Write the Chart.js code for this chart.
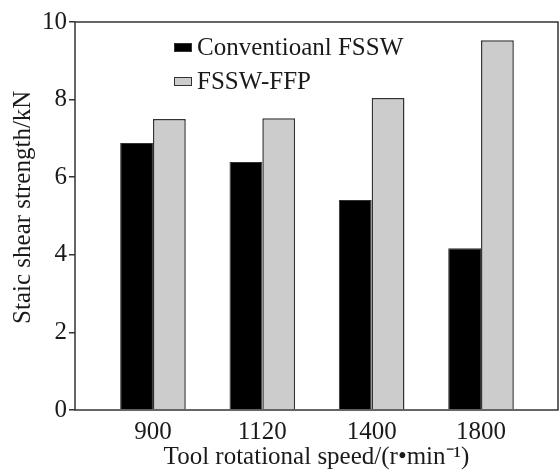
<!DOCTYPE html>
<html><head><meta charset="utf-8">
<script src="https://cdn.jsdelivr.net/npm/chart.js@4/dist/chart.umd.min.js"></script>
<style>html,body{margin:0;padding:0;background:#fff}#wrap{width:559px;height:472px}</style>
</head><body><div id="wrap"><canvas id="c" width="559" height="472"></canvas></div>
<script>
const categories = ['900', '1120', '1400', '1800'];
const conventional = [6.88, 6.39, 5.41, 4.17];
const ffp = [7.50, 7.52, 8.04, 9.53];
const seriesNames = ['Conventioanl FSSW', 'FSSW-FFP'];
const yTicks = [0, 2, 4, 6, 8, 10];

const FONT = '"Liberation Serif", "Times New Roman", serif';
const TXT = '#1a1a1a';
const EDGE = '#333333';
const FS = 25;

const frameAndLegend = {
  id: 'frameAndLegend',
  afterDraw(chart) {
    const {ctx, chartArea: a} = chart;
    ctx.save();
    ctx.strokeStyle = EDGE;
    ctx.lineWidth = 1.5;
    ctx.strokeRect(a.left, a.top, a.right - a.left, a.bottom - a.top);
    ctx.font = FS + 'px ' + FONT;
    ctx.textBaseline = 'middle';
    chart.data.datasets.forEach((ds, i) => {
      const bx = a.left + 99, by = a.top + 21 + i * 34;
      ctx.fillStyle = ds.backgroundColor;
      ctx.fillRect(bx, by, 18, 9);
      ctx.strokeStyle = EDGE; ctx.lineWidth = 1;
      ctx.strokeRect(bx + 0.5, by + 0.5, 17, 8);
      ctx.fillStyle = TXT;
      ctx.fillText(ds.label, bx + 23, by + 5);
    });
    ctx.restore();
  }
};

new Chart(document.getElementById('c'), {
  type: 'bar',
  data: {
    datasets: [
      { label: seriesNames[0], data: conventional.map((v, i) => ({x: i + 1, y: v})),
        backgroundColor: '#000000', borderColor: EDGE, borderWidth: 1 },
      { label: seriesNames[1], data: ffp.map((v, i) => ({x: i + 1, y: v})),
        backgroundColor: '#cccccc', borderColor: EDGE, borderWidth: 1.5 }
    ]
  },
  plugins: [frameAndLegend],
  options: {
    responsive: false,
    animation: false,
    layout: { padding: { top: 22, right: 1, left: 0, bottom: 0 } },
    plugins: { legend: { display: false }, tooltip: { enabled: false } },
    datasets: { bar: { categoryPercentage: 0.6, barPercentage: 1.0 } },
    scales: {
      x: {
        type: 'linear', min: 0.287, max: 4.704, offset: false,
        afterBuildTicks: s => { s.ticks = categories.map((c, i) => ({ value: i + 1 })); },
        afterFit: s => { s.height = 62; },
        grid: { display: false, drawTicks: false },
        border: { display: false },
        ticks: { color: TXT, font: { family: FONT, size: FS }, padding: 7,
                 callback: v => categories[v - 1] },
        title: { display: true, text: 'Tool rotational speed/(r•min⁻¹)', color: TXT,
                 font: { family: FONT, size: FS }, padding: { top: 0, bottom: 0 } }
      },
      y: {
        min: 0, max: 10,
        afterBuildTicks: s => { s.ticks = yTicks.map(v => ({ value: v })); },
        afterFit: s => { s.width = 75; },
        grid: { display: true, drawOnChartArea: false, drawTicks: true, tickLength: 6, color: EDGE, lineWidth: 1.5 },
        border: { display: false },
        ticks: { color: TXT, font: { family: FONT, size: FS }, padding: 2 },
        title: { display: true, text: '\u2002\u2009Staic shear strength/kN', color: TXT,
                 font: { family: FONT, size: FS }, padding: { top: 8, bottom: 4 } }
      }
    }
  }
});
</script></body></html>
